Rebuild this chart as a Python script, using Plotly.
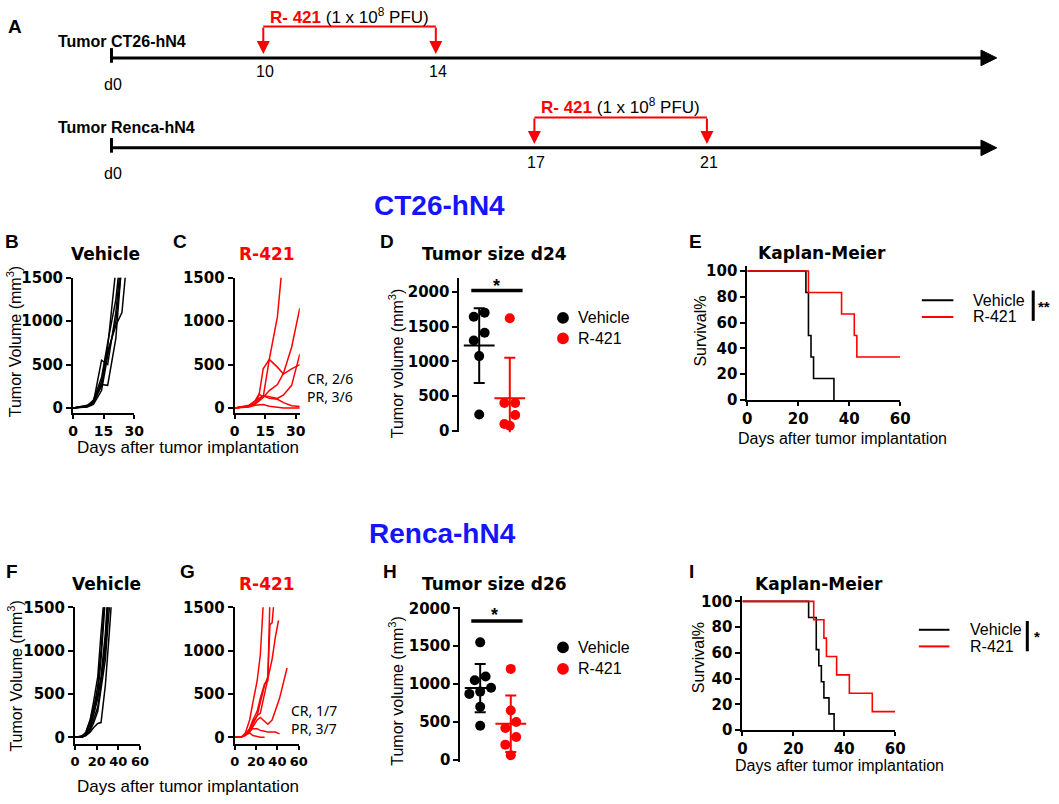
import plotly.graph_objects as go

W, H = 1059, 804
def fx(p): return p / W
def fy(p): return 1 - p / H

# ---------------- data ----------------
# Panel A: treatment schedule (days after implantation)
ct26_treat_days = [10, 14]
renca_treat_days = [17, 21]

# Panel B: CT26-hN4, vehicle, individual tumour volumes (mm^3)
ct26_veh_days = [
    [0, 7, 10, 14, 17, 21, 24],
    [0, 7, 10, 14, 17, 21, 24],
    [0, 7, 10, 14, 17, 21],
    [0, 7, 10, 14, 17, 21, 24, 26],
    [0, 7, 10, 14, 17, 21, 24],
    [0, 7, 10, 14, 17, 21, 24],
]
ct26_veh_vols = [
    [0, 25, 60, 550, 500, 1100, 1800],
    [0, 20, 50, 270, 260, 800, 1700],
    [0, 30, 80, 300, 700, 1600],
    [0, 15, 70, 250, 650, 950, 1100, 1600],
    [0, 20, 90, 350, 750, 1250, 1900],
    [0, 10, 40, 200, 600, 1000, 1650],
]
# Panel C: CT26-hN4, R-421
ct26_r421_days = [
    [0, 7, 10, 12, 14, 17, 21, 23],
    [0, 7, 10, 14, 17, 21, 24, 28, 32],
    [0, 7, 10, 12, 14, 17, 21, 24, 28, 32],
    [0, 7, 10, 14, 17, 21, 24, 28, 32],
    [0, 7, 10, 14, 17, 21, 24, 28, 32],
    [0, 7, 10, 14, 17, 21, 24, 28, 32],
]
ct26_r421_vols = [
    [0, 20, 50, 150, 450, 560, 1050, 1550],
    [0, 20, 40, 120, 200, 270, 400, 700, 1150],
    [0, 20, 80, 160, 120, 560, 470, 390, 450, 500],
    [0, 30, 80, 140, 130, 110, 150, 260, 620],
    [0, 20, 50, 140, 110, 100, 60, 25, 15],
    [0, 10, 30, 40, 20, 10, 0, 0, 0],
]
ct26_cr_pr = ["CR, 2/6", "PR, 3/6"]

# Panel D: tumour size day 24 (mm^3)
ct26_d24_vehicle = [1640, 1700, 1410, 1300, 1075, 235]
ct26_d24_r421 = [1620, 400, 400, 230, 100, 75]

# Panel E: survival (death day, event flag 1=death 0=censored)
ct26_km_veh_days = [23, 24, 24, 25, 26, 34]
ct26_km_veh_event = [1, 1, 1, 1, 1, 1]
ct26_km_r421_days = [24, 37, 42, 43, 60, 60]
ct26_km_r421_event = [1, 1, 1, 1, 0, 0]

# Panel F: Renca-hN4, vehicle
renca_veh_days = [
    [0, 7, 10, 14, 17, 21, 24, 28],
    [0, 5, 10, 14, 17, 21, 24, 28],
    [0, 7, 10, 14, 17, 21, 24, 28, 31],
    [0, 7, 10, 14, 17, 21, 24, 28, 31],
    [0, 7, 10, 14, 17, 21, 24, 28, 31, 35],
    [0, 7, 10, 14, 17, 21, 24, 28, 31, 35],
    [0, 7, 10, 14, 17, 21, 24, 28],
    [0, 7, 10, 14, 17, 21, 24, 28, 31],
]
renca_veh_vols = [
    [0, 10, 40, 150, 300, 600, 1000, 1700],
    [0, 5, 50, 200, 400, 700, 1200, 1800],
    [0, 10, 30, 100, 200, 350, 600, 1100, 1700],
    [0, 0, 30, 120, 250, 450, 700, 1200, 1800],
    [0, 10, 20, 80, 160, 300, 550, 900, 1400, 1900],
    [0, 5, 20, 60, 110, 160, 170, 600, 1100, 1800],
    [0, 15, 60, 200, 350, 500, 900, 1600],
    [0, 10, 40, 150, 280, 480, 650, 1000, 1600],
]
# Panel G: Renca-hN4, R-421
renca_r421_days = [
    [0, 7, 10, 14, 17, 21, 24, 27],
    [0, 7, 10, 14, 17, 21, 24, 28, 31, 33],
    [0, 7, 10, 14, 17, 21, 24, 28, 31, 33, 35, 37],
    [0, 7, 10, 14, 17, 21, 24, 28, 31, 35, 38, 41],
    [0, 7, 10, 14, 17, 21, 24, 28, 31, 35, 38, 42, 45, 49],
    [0, 7, 10, 14, 17, 21, 24, 28, 31, 35, 38, 42],
    [0, 7, 10, 14, 17, 21, 24, 28],
]
renca_r421_vols = [
    [0, 10, 50, 200, 400, 650, 950, 1600],
    [0, 10, 30, 100, 200, 300, 450, 620, 650, 1600],
    [0, 10, 30, 100, 180, 250, 400, 600, 700, 1300, 1320, 1600],
    [0, 10, 30, 80, 150, 250, 280, 500, 650, 900, 1150, 1350],
    [0, 5, 20, 60, 120, 200, 230, 180, 150, 200, 300, 450, 600, 800],
    [0, 10, 40, 80, 100, 100, 80, 70, 60, 60, 60, 40],
    [0, 10, 30, 50, 20, 5, 0, 0],
]
renca_cr_pr = ["CR, 1/7", "PR, 3/7"]

# Panel H: tumour size day 26 (mm^3)
renca_d26_vehicle = [1550, 1100, 1050, 950, 900, 870, 700, 450]
renca_d26_r421 = [1200, 650, 500, 420, 300, 200, 60]

# Panel I: survival
renca_km_veh_days = [26, 29, 29, 30, 31, 32, 34, 36]
renca_km_veh_event = [1, 1, 1, 1, 1, 1, 1, 1]
renca_km_r421_days = [28, 32, 33, 37, 42, 51, 60]
renca_km_r421_event = [1, 1, 1, 1, 1, 1, 0]

groups = ["Vehicle", "R-421"]

# ---------------- styling ----------------
BLACK = "#000000"
RED = "#ff0000"
BLUE = "#1414ff"
TICKF = dict(family="DejaVu Sans", size=15, color="black", weight="bold")
SANS = "Liberation Sans"

fig = go.Figure()
ann = []
shapes = []

def txt(x, y, s, size=16, color="black", bold=False, family=SANS, xa="center", ya="middle", angle=0, align="center"):
    ann.append(dict(x=fx(x), y=fy(y), xref="paper", yref="paper", text=s, showarrow=False,
                    xanchor=xa, yanchor=ya, textangle=angle, align=align,
                    font=dict(family=family, size=size, color=color,
                              weight="bold" if bold else "normal")))

def line(x0, y0, x1, y1, color="black", width=2):
    shapes.append(dict(type="line", xref="paper", yref="paper", x0=fx(x0), y0=fy(y0),
                       x1=fx(x1), y1=fy(y1), line=dict(color=color, width=width)))

def axstyle(**kw):
    d = dict(showline=True, linecolor="black", linewidth=2, ticks="outside", ticklen=5,
             tickwidth=2, tickcolor="black", showgrid=False, zeroline=False,
             tickfont=TICKF, fixedrange=True, tickangle=0)
    d.update(kw)
    return d

layout_axes = {}

def set_axes(n, xdom, ydom, xr, yr, xt, yt, xvisible=True, xfont=15):
    xa = "xaxis" if n == 1 else f"xaxis{n}"
    ya = "yaxis" if n == 1 else f"yaxis{n}"
    yid = "y" if n == 1 else f"y{n}"
    xid = "x" if n == 1 else f"x{n}"
    if xvisible:
        layout_axes[xa] = axstyle(domain=[fx(xdom[0]), fx(xdom[1])], range=xr, tickvals=xt,
                                  anchor=yid, ticklen=4, tickfont=dict(TICKF, size=xfont))
    else:
        layout_axes[xa] = dict(domain=[fx(xdom[0]), fx(xdom[1])], range=xr, visible=False,
                               anchor=yid, fixedrange=True)
    layout_axes[ya] = axstyle(domain=[fy(ydom[0]), fy(ydom[1])], range=yr, tickvals=yt, anchor=xid)

def growth(n, days, vols, color):
    xid, yid = ("x", "y") if n == 1 else (f"x{n}", f"y{n}")
    for d, v in zip(days, vols):
        fig.add_trace(go.Scatter(x=d, y=v, mode="lines", line=dict(color=color, width=1.5),
                                 xaxis=xid, yaxis=yid, hoverinfo="skip"))

def km_steps(times, events, t_end=60):
    pairs = sorted(zip(times, events))
    n = len(pairs)
    xs, ys = [0], [100.0]
    s, at_risk, i = 100.0, n, 0
    while i < n:
        t = pairs[i][0]
        d = c = 0
        while i < n and pairs[i][0] == t:
            if pairs[i][1]:
                d += 1
            else:
                c += 1
            i += 1
        if d:
            s *= (1 - d / at_risk)
            xs.append(t)
            ys.append(s)
        at_risk -= d + c
    if s > 0 and xs[-1] < t_end:
        xs.append(t_end)
        ys.append(s)
    return xs, ys

def km(n, times, events, color):
    xid, yid = (f"x{n}", f"y{n}")
    xs, ys = km_steps(times, events)
    fig.add_trace(go.Scatter(x=xs, y=ys, mode="lines", line=dict(color=color, width=1.6, shape="hv"),
                             xaxis=xid, yaxis=yid, hoverinfo="skip"))

def swarm(vals, px_per_unit, diam=10, spread=11, px_per_cat=31):
    order = sorted(range(len(vals)), key=lambda i: -vals[i])
    rows = []
    for i in order:
        if rows and (vals[rows[-1][0]] - vals[i]) * px_per_unit < diam:
            rows[-1].append(i)
        else:
            rows.append([i])
    offs = [0.0] * len(vals)
    for r in rows:
        m = len(r)
        for k, i in enumerate(r):
            offs[i] = ((m - 1) / 2 - k) * spread / px_per_cat
    return offs

def mean_sd(v):
    m = sum(v) / len(v)
    sd = (sum((a - m) ** 2 for a in v) / (len(v) - 1)) ** 0.5
    return m, sd

def scatter_panel(n, series, px_per_unit):
    xid, yid = (f"x{n}", f"y{n}")
    for gi, (vals, color) in enumerate(series):
        m, sd = mean_sd(vals)
        fig.add_trace(go.Scatter(x=[gi + 1], y=[m], mode="markers",
                                 marker=dict(symbol="line-ew", size=22, line=dict(color=color, width=2)),
                                 error_y=dict(type="data", array=[sd], color=color, thickness=2, width=5.5),
                                 xaxis=xid, yaxis=yid, hoverinfo="skip"))
    for gi, (vals, color) in enumerate(series):
        offs = swarm(vals, px_per_unit)
        fig.add_trace(go.Scatter(x=[gi + 1 + o for o in offs], y=vals, mode="markers",
                                 marker=dict(color=color, size=10, line=dict(width=0)),
                                 xaxis=xid, yaxis=yid, hoverinfo="skip"))

# ---------------- Panel A ----------------
txt(10, 18, "A", size=19, bold=True)
def timeline(label, ly, y, treat, br_top, lab_y, num_y, d0_y, xs_px):
    txt(52, ly, label, size=16, bold=True, xa="left")
    line(108, y - 10, 108, y + 5, width=3)
    line(108, y, 992, y, width=3)
    shapes.append(dict(type="path", xref="paper", yref="paper",
                       path=f"M {fx(990)},{fy(y-8)} L {fx(1006)},{fy(y)} L {fx(990)},{fy(y+8)} Z",
                       fillcolor="black", line=dict(color="black", width=1)))
    txt(110, d0_y, "d0", size=16)
    line(xs_px[0], br_top, xs_px[1], br_top, color=RED, width=2)
    for xp, dval in zip(xs_px, treat):
        ann.append(dict(x=fx(xp), y=fy(y - 4), xref="paper", yref="paper", text="", showarrow=True,
                        ax=0, ay=-(y - 4 - br_top), arrowhead=2, arrowsize=1.3, arrowwidth=2,
                        arrowcolor=RED, standoff=0))
        txt(xp + 2, num_y, str(dval), size=16)
    txt((xs_px[0] + xs_px[1]) / 2, lab_y,
        f"<span style='color:{RED}'><b>R- 421</b></span> (1 x 10<sup>8</sup> PFU)", size=17)

timeline("Tumor CT26-hN4", 33, 50, ct26_treat_days, 18, 7, 64, 77, [262, 437])
timeline("Tumor Renca-hN4", 121, 142, renca_treat_days, 111, 99, 157, 168, [537, 712])

# ---------------- section titles ----------------
txt(441, 201, "CT26-hN4", size=28, color=BLUE, bold=True)
txt(444, 537, "Renca-hN4", size=28, color=BLUE, bold=True)

# ---------------- Panels B, C ----------------
set_axes(1, (69, 131), (413, 275), [0, 30], [-56, 1500], [0, 15, 30], [0, 500, 1000, 1500], xfont=14)
growth(1, ct26_veh_days, ct26_veh_vols, BLACK)
set_axes(2, (233, 299), (413, 275), [0, 32], [-56, 1500], [0, 15, 30], [0, 500, 1000, 1500], xfont=14)
growth(2, ct26_r421_days, ct26_r421_vols, RED)
txt(7, 238, "B", size=19, bold=True)
txt(178, 238, "C", size=19, bold=True)
txt(102, 251, "Vehicle", size=17, bold=True, family="DejaVu Sans")
txt(266, 251, "R-421", size=17, bold=True, color=RED, family="DejaVu Sans")
txt(10, 340, "Tumor Volume (mm<sup>3</sup>)", size=16, angle=-90)
txt(186, 449, "Days after tumor implantation", size=17)
txt(304, 387, "<br>".join(ct26_cr_pr), size=14, family="Noto Sans", xa="left", align="left")

# ---------------- Panel D ----------------
set_axes(3, (461, 535), (433, 275), [0.355, 2.74], [-20, 2200], None, [0, 500, 1000, 1500, 2000], xvisible=False)
scatter_panel(3, [(ct26_d24_vehicle, BLACK), (ct26_d24_r421, RED)], 35.6 / 500)
txt(387, 238, "D", size=19, bold=True)
txt(497, 251, "Tumor size d24", size=17, bold=True, family="DejaVu Sans")
txt(397, 362, "Tumor volume (mm<sup>3</sup>)", size=16, angle=-90)
line(473, 288, 525, 288, width=3.5)
txt(499, 283, "*", size=18, bold=True)
for yy, g, c in [(316, groups[0], BLACK), (337, groups[1], RED)]:
    shapes.append(dict(type="circle", xref="paper", yref="paper", x0=fx(560), x1=fx(572),
                       y0=fy(yy - 6), y1=fy(yy + 6), fillcolor=c, line=dict(width=0)))
    txt(579, yy, g, size=16, xa="left")

# ---------------- Panel E ----------------
set_axes(4, (753, 908), (400, 262.7), [0, 60], [0, 104], [0, 20, 40, 60], [0, 20, 40, 60, 80, 100])
km(4, ct26_km_veh_days, ct26_km_veh_event, BLACK)
km(4, ct26_km_r421_days, ct26_km_r421_event, RED)
txt(700, 238, "E", size=19, bold=True)
txt(829, 250, "Kaplan-Meier", size=17, bold=True, family="DejaVu Sans")
txt(706, 330, "Survival%", size=16, angle=-90)
txt(850, 439, "Days after tumor implantation", size=16)
line(930, 298, 962, 298, color=BLACK, width=2)
line(930, 315, 962, 315, color=RED, width=2)
txt(980, 298, groups[0], size=16, xa="left")
txt(980, 315, groups[1], size=16, xa="left")
line(1043, 288, 1043, 319, width=3)
txt(1046, 304, "**", size=15, bold=True, xa="left")

# ---------------- Panels F, G ----------------
set_axes(5, (71, 137), (752, 612), [0, 60], [-79, 1500], [0, 20, 40, 60], [0, 500, 1000, 1500], xfont=13)
growth(5, renca_veh_days, renca_veh_vols, BLACK)
set_axes(6, (233, 298), (752, 612), [0, 60], [-79, 1500], [0, 20, 40, 60], [0, 500, 1000, 1500], xfont=13)
growth(6, renca_r421_days, renca_r421_vols, RED)
txt(7, 575, "F", size=19, bold=True)
txt(185, 575, "G", size=19, bold=True)
txt(103, 588, "Vehicle", size=17, bold=True, family="DejaVu Sans")
txt(266, 588, "R-421", size=17, bold=True, color=RED, family="DejaVu Sans")
txt(10, 682, "Tumor Volume (mm<sup>3</sup>)", size=16, angle=-90)
txt(186, 795, "Days after tumor implantation", size=17)
txt(288, 727, "<br>".join(renca_cr_pr), size=14, family="Noto Sans", xa="left", align="left")

# ---------------- Panel H ----------------
set_axes(7, (462, 536), (770, 612), [0.355, 2.74], [-26, 2013], None, [0, 500, 1000, 1500, 2000], xvisible=False)
scatter_panel(7, [(renca_d26_vehicle, BLACK), (renca_d26_r421, RED)], 38.75 / 500)
txt(391, 575, "H", size=19, bold=True)
txt(497, 588, "Tumor size d26", size=17, bold=True, family="DejaVu Sans")
txt(397, 697, "Tumor volume (mm<sup>3</sup>)", size=16, angle=-90)
line(473, 626, 525, 626, width=3.5)
txt(497, 620, "*", size=18, bold=True)
for yy, g, c in [(653, groups[0], BLACK), (675, groups[1], RED)]:
    shapes.append(dict(type="circle", xref="paper", yref="paper", x0=fx(560), x1=fx(572),
                       y0=fy(yy - 6), y1=fy(yy + 6), fillcolor=c, line=dict(width=0)))
    txt(579, yy, g, size=16, xa="left")

# ---------------- Panel I ----------------
set_axes(8, (748, 903), (737.5, 600.7), [0, 60], [0, 104], [0, 20, 40, 60], [0, 20, 40, 60, 80, 100])
km(8, renca_km_veh_days, renca_km_veh_event, BLACK)
km(8, renca_km_r421_days, renca_km_r421_event, RED)
txt(696, 575, "I", size=19, bold=True)
txt(826, 588, "Kaplan-Meier", size=17, bold=True, family="DejaVu Sans")
txt(703, 664, "Survival%", size=16, angle=-90)
txt(846, 774, "Days after tumor implantation", size=16)
line(927, 635, 958, 635, color=BLACK, width=2)
line(927, 652, 958, 652, color=RED, width=2)
txt(977, 635, groups[0], size=16, xa="left")
txt(977, 652, groups[1], size=16, xa="left")
line(1037, 626, 1037, 657, width=3)
txt(1042, 642, "*", size=15, bold=True, xa="left")

fig.update_layout(width=W, height=H, margin=dict(l=0, r=0, t=0, b=0),
                  paper_bgcolor="white", plot_bgcolor="white", showlegend=False,
                  annotations=ann, shapes=shapes, **layout_axes)
fig.write_html("out.html", config={"displayModeBar": False},
               post_script="document.body.style.margin='0';document.body.style.padding='0';"
                           "document.documentElement.style.overflow='hidden';")
